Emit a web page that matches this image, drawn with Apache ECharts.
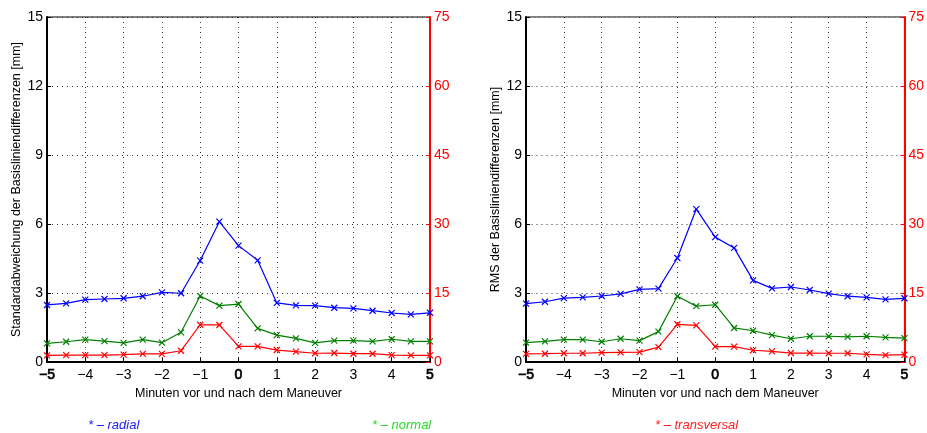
<!DOCTYPE html>
<html>
<head>
<meta charset="utf-8">
<script src="https://cdn.jsdelivr.net/npm/echarts@6/dist/echarts.min.js"></script>
<style>
  html, body { margin: 0; padding: 0; background: #fff; }
  #chart { width: 927px; height: 433px; }
</style>
</head>
<body>
<div id="chart"></div>
<script>
// Minutes relative to the manoeuvre (x axis of both panels)
const minutes = [-5, -4.5, -4, -3.5, -3, -2.5, -2, -1.5, -1, -0.5, 0, 0.5, 1, 1.5, 2, 2.5, 3, 3.5, 4, 4.5, 5];

// Left panel: standard deviation [mm]; radial/normal on left axis, transversal on right axis
const sdRadial = [2.48, 2.55, 2.71, 2.74, 2.77, 2.86, 3.03, 2.99, 4.41, 6.10, 5.06, 4.42, 2.57, 2.46, 2.45, 2.36, 2.33, 2.23, 2.13, 2.07, 2.14];
const sdNormal = [0.81, 0.88, 0.97, 0.91, 0.83, 0.97, 0.84, 1.29, 2.87, 2.45, 2.52, 1.46, 1.17, 1.03, 0.83, 0.93, 0.93, 0.90, 0.99, 0.90, 0.90];
const sdTransversal = [1.45, 1.5, 1.5, 1.5, 1.6, 1.75, 1.75, 2.45, 8.1, 8.05, 3.4, 3.4, 2.6, 2.25, 1.9, 1.95, 1.8, 1.8, 1.5, 1.45, 1.45];

// Right panel: RMS [mm]
const rmsRadial = [2.54, 2.62, 2.78, 2.81, 2.87, 2.96, 3.16, 3.19, 4.52, 6.65, 5.43, 4.96, 3.55, 3.20, 3.26, 3.13, 2.97, 2.86, 2.81, 2.72, 2.77];
const rmsNormal = [0.84, 0.90, 0.97, 0.97, 0.88, 1.01, 0.93, 1.32, 2.86, 2.43, 2.49, 1.48, 1.36, 1.17, 1.01, 1.12, 1.12, 1.09, 1.12, 1.07, 1.04];
const rmsTransversal = [1.75, 1.8, 1.9, 1.9, 2.05, 2.1, 2.15, 3.25, 8.2, 7.95, 3.35, 3.35, 2.55, 2.3, 1.95, 1.95, 1.9, 1.9, 1.65, 1.5, 1.6];

// Tick settings
const xMin = -5, xMax = 5, xStep = 1;
const yLeftMax = 15, yLeftStep = 3;
const yRightMax = 75, yRightStep = 15;

const leftTitles = ['Standardabweichung der Basisliniendifferenzen [mm]', 'RMS der Basisliniendifferenzen [mm]'];
const xTitle = 'Minuten vor und nach dem Maneuver';
const legendTexts = ['* \u2013 radial', '* \u2013 normal', '* \u2013 transversal'];

const FONT = 'Liberation Sans, Arial, Helvetica, sans-serif';
const cross = 'path://M0,0L10,10M10,0L0,10';

function pairs(vals) { return minutes.map((m, i) => [m, vals[i]]); }

function series(name, vals, color, xi, yi) {
  return {
    name: name, type: 'line', xAxisIndex: xi, yAxisIndex: yi,
    data: pairs(vals),
    symbol: cross, symbolSize: 6, showSymbol: true,
    lineStyle: { color: color, width: 1.2 },
    itemStyle: { color: color, borderColor: color, borderWidth: 1.2 },
    emphasis: { disabled: true },
    animation: false, z: 5
  };
}

const grids = [
  { left: 47, top: 17, width: 383, height: 345 },
  { left: 526, top: 17, width: 383, height: 345 }
].map(g => Object.assign(g, { show: true, borderColor: '#000', borderWidth: 1, backgroundColor: 'transparent' }));

function xAxis(gi) {
  return {
    type: 'value', gridIndex: gi, min: xMin, max: xMax, interval: xStep,
    name: xTitle, nameLocation: 'middle', nameGap: 21,
    nameTextStyle: { fontFamily: FONT, fontSize: 12.5, color: '#000' },
    axisLine: { show: true, onZero: false, lineStyle: { color: '#000', width: 2 } },
    axisTick: { show: true, inside: true, length: 4, lineStyle: { color: '#000' } },
    axisLabel: {
      fontFamily: FONT, fontSize: 14, color: '#000', margin: 6,
      formatter: v => {
        const s = v < 0 ? '\u2212' + Math.abs(v) : String(v);
        return (v === -5 || v === 0 || v === 5) ? '{b|' + s + '}' : s;
      },
      // labels shared by both tick sets are drawn slightly heavier
      rich: { b: { fontFamily: FONT, fontSize: 14, color: '#000', textBorderColor: '#000', textBorderWidth: 0.7 } }
    },
    splitLine: { show: true, lineStyle: { color: '#333', type: [1, 4], width: 1 } }
  };
}

function yLeft(gi) {
  return {
    type: 'value', gridIndex: gi, position: 'left', min: 0, max: yLeftMax, interval: yLeftStep,
    name: leftTitles[gi], nameLocation: 'middle', nameRotate: 90, nameGap: gi === 0 ? 24 : 19,
    nameTextStyle: { fontFamily: FONT, fontSize: 12.5, color: '#000' },
    axisLine: { show: true, onZero: false, lineStyle: { color: '#000', width: 2 } },
    axisTick: { show: true, inside: true, length: 4, lineStyle: { color: '#000' } },
    axisLabel: { fontFamily: FONT, fontSize: 14, color: '#000', margin: 4 },
    splitLine: { show: true, lineStyle: { color: gi === 0 ? '#333' : '#999', type: gi === 0 ? [1, 4] : [2, 3], width: 1 } }
  };
}

function yRight(gi) {
  return {
    type: 'value', gridIndex: gi, position: 'right', min: 0, max: yRightMax, interval: yRightStep,
    axisLine: { show: true, onZero: false, lineStyle: { color: '#ff0000', width: 2 } },
    axisTick: { show: true, inside: true, length: 4, lineStyle: { color: '#ff0000' } },
    axisLabel: { fontFamily: FONT, fontSize: 14, color: '#ff0000', margin: 4 },
    splitLine: { show: false }
  };
}

const chart = echarts.init(document.getElementById('chart'), null, { renderer: 'canvas' });
chart.setOption({
  backgroundColor: '#fff',
  animation: false,
  grid: grids,
  xAxis: [xAxis(0), xAxis(1)],
  yAxis: [yLeft(0), yRight(0), yLeft(1), yRight(1)],
  series: [
    series('radial', sdRadial, '#0000ff', 0, 0),
    series('normal', sdNormal, '#008000', 0, 0),
    series('transversal', sdTransversal, '#ff0000', 0, 1),
    series('radial', rmsRadial, '#0000ff', 1, 2),
    series('normal', rmsNormal, '#008000', 1, 2),
    series('transversal', rmsTransversal, '#ff0000', 1, 3)
  ],
  graphic: [
    { type: 'text', left: 88, top: 419, style: { text: legendTexts[0], fill: '#2020ff', font: 'italic 13px ' + FONT } },
    { type: 'text', left: 372, top: 419, style: { text: legendTexts[1], fill: '#22dd22', font: 'italic 13px ' + FONT } },
    { type: 'text', left: 655, top: 419, style: { text: legendTexts[2], fill: '#ff2020', font: 'italic 13px ' + FONT } }
  ]
});
</script>
</body>
</html>
